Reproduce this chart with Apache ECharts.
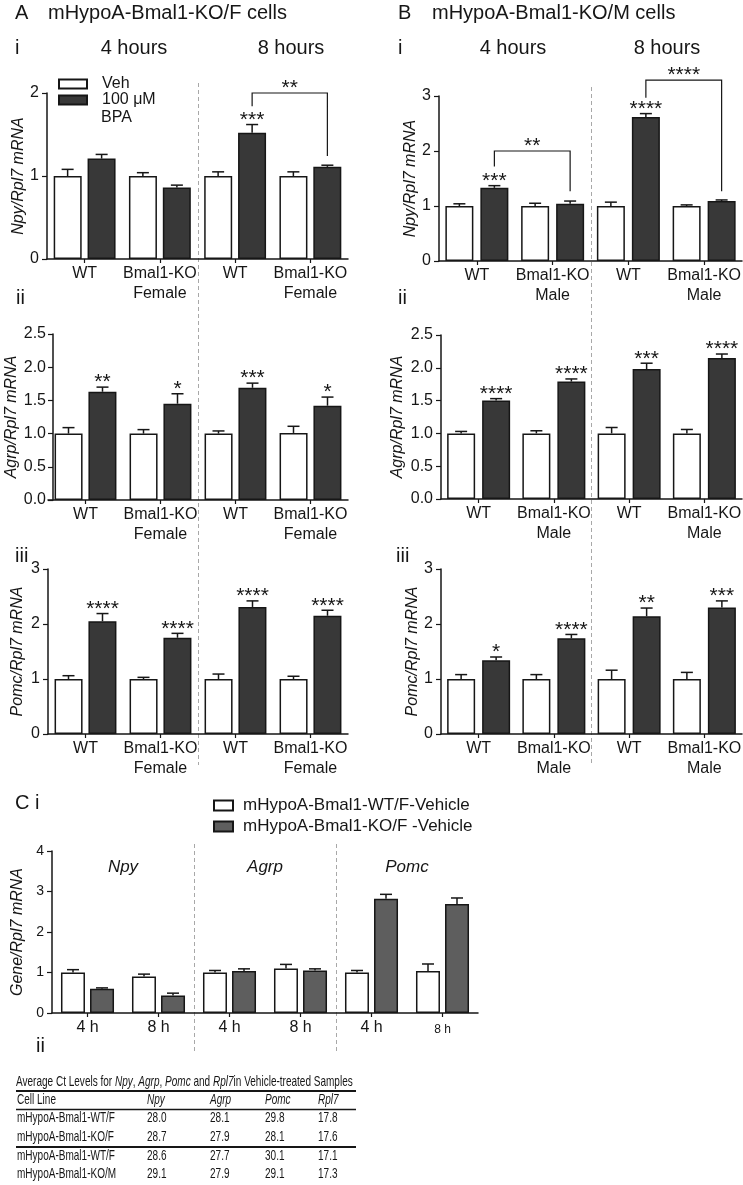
<!DOCTYPE html>
<html><head><meta charset="utf-8">
<script src="https://cdn.jsdelivr.net/npm/echarts@6/dist/echarts.min.js"></script>
<style>html,body{margin:0;padding:0;background:#fff}#c{width:743px;height:1185px}</style>
</head><body><div id="c"></div>
<script>
const FONT = "'Liberation Sans', Arial, Helvetica, sans-serif";

// ---------- categories / tick labels ----------
const groupsA = ['WT', 'Bmal1-KO\nFemale', 'WT', 'Bmal1-KO\nFemale'];
const groupsB = ['WT', 'Bmal1-KO\nMale', 'WT', 'Bmal1-KO\nMale'];
const timeLabelsC = ['4 h', '8 h', '4 h', '8 h', '4 h', '8 h'];
const genesC = ['Npy', 'Agrp', 'Pomc'];
const seriesNamesAB = ['Veh', '100 μM'];
const seriesNamesC = ['mHypoA-Bmal1-WT/F-Vehicle', 'mHypoA-Bmal1-KO/F -Vehicle'];

// ---------- A i (Npy, female) ----------
const aiVeh = [1.00, 1.00, 1.00, 1.00];
const aiVehErr = [0.08, 0.04, 0.05, 0.05];
const aiBpa = [1.21, 0.86, 1.52, 1.11];
const aiBpaErr = [0.05, 0.03, 0.10, 0.02];
const aiSig = ['', '', '***', ''];
const aiBrackets = [[2, 3, 2.0, 1.84, 1.24]];
const aiBracketSig = ['**'];

// ---------- A ii (Agrp, female) ----------
const aiiVeh = [1.00, 1.00, 1.00, 1.01];
const aiiVehErr = [0.09, 0.06, 0.04, 0.10];
const aiiBpa = [1.63, 1.45, 1.69, 1.42];
const aiiBpaErr = [0.07, 0.15, 0.07, 0.13];
const aiiSig = ['**', '*', '***', '*'];

// ---------- A iii (Pomc, female) ----------
const aiiiVeh = [1.00, 1.00, 1.00, 1.00];
const aiiiVehErr = [0.06, 0.03, 0.09, 0.05];
const aiiiBpa = [2.05, 1.75, 2.31, 2.15];
const aiiiBpaErr = [0.14, 0.08, 0.11, 0.10];
const aiiiSig = ['****', '****', '****', '****'];

// ---------- B i (Npy, male) ----------
const biVeh = [1.00, 1.00, 1.00, 1.00];
const biVehErr = [0.04, 0.05, 0.07, 0.02];
const biBpa = [1.33, 1.04, 2.62, 1.09];
const biBpaErr = [0.04, 0.05, 0.06, 0.02];
const biSig = ['***', '', '****', ''];
const biBrackets = [[0, 1, 2.0, 1.72, 1.27], [2, 3, 3.29, 2.97, 1.27]];
const biBracketSig = ['**', '****'];

// ---------- B ii (Agrp, male) ----------
const biiVeh = [1.00, 1.00, 1.00, 1.00];
const biiVehErr = [0.03, 0.04, 0.09, 0.06];
const biiBpa = [1.50, 1.79, 1.98, 2.15];
const biiBpaErr = [0.03, 0.04, 0.09, 0.06];
const biiSig = ['****', '****', '***', '****'];

// ---------- B iii (Pomc, male) ----------
const biiiVeh = [1.00, 1.00, 1.00, 1.00];
const biiiVehErr = [0.08, 0.08, 0.16, 0.12];
const biiiBpa = [1.34, 1.74, 2.14, 2.30];
const biiiBpaErr = [0.06, 0.07, 0.15, 0.12];
const biiiSig = ['*', '****', '**', '***'];

// ---------- C i (vehicle, WT vs KO female) ----------
const cWt = [1.00, 0.90, 1.00, 1.10, 1.00, 1.04];
const cWtErr = [0.07, 0.06, 0.05, 0.10, 0.05, 0.17];
const cKo = [0.60, 0.43, 1.04, 1.05, 2.82, 2.69];
const cKoErr = [0.02, 0.06, 0.05, 0.04, 0.11, 0.15];

// ---------- C ii table ----------
const tableTitle = 'Average Ct Levels for {i|Npy}, {i|Agrp}, {i|Pomc} and {i|Rpl7}in Vehicle-treated Samples';
const tableHeader = ['Cell Line', 'Npy', 'Agrp', 'Pomc', 'Rpl7'];
const tableCellLines = ['mHypoA-Bmal1-WT/F', 'mHypoA-Bmal1-KO/F', 'mHypoA-Bmal1-WT/F', 'mHypoA-Bmal1-KO/M'];
const ctNpy = ['28.0', '28.7', '28.6', '29.1'];
const ctAgrp = ['28.1', '27.9', '27.7', '27.9'];
const ctPomc = ['29.8', '28.1', '30.1', '29.1'];
const ctRpl7 = ['17.8', '17.6', '17.1', '17.3'];

// ---------- layout (positions / styles) ----------
const panels = [
  {cats: groupsA, veh: aiVeh, vehErr: aiVehErr, bpa: aiBpa, bpaErr: aiBpaErr, sig: aiSig, br: aiBrackets, brSig: aiBracketSig,
   yName: 'Npy/Rpl7 mRNA', L: {left: 47, top: 93, width: 301, height: 166, max: 2, interval: 1, dec: 0, barW: 28, gap: 6, nameGap: 19}},
  {cats: groupsA, veh: aiiVeh, vehErr: aiiVehErr, bpa: aiiBpa, bpaErr: aiiBpaErr, sig: aiiSig,
   yName: 'Agrp/Rpl7 mRNA', L: {left: 48, top: 334, width: 300, height: 166, max: 2.5, interval: 0.5, dec: 1, barW: 28, gap: 6, nameGap: 28, axOff: -5, lblMargin: 7}},
  {cats: groupsA, veh: aiiiVeh, vehErr: aiiiVehErr, bpa: aiiiBpa, bpaErr: aiiiBpaErr, sig: aiiiSig,
   yName: 'Pomc/Rpl7 mRNA', L: {left: 48, top: 569, width: 300, height: 165, max: 3, interval: 1, dec: 0, barW: 28, gap: 6, nameGap: 22}},
  {cats: groupsB, veh: biVeh, vehErr: biVehErr, bpa: biBpa, bpaErr: biBpaErr, sig: biSig, br: biBrackets, brSig: biBracketSig,
   yName: 'Npy/Rpl7 mRNA', L: {left: 439, top: 96, width: 303, height: 165, max: 3, interval: 1, dec: 0, barW: 28, gap: 7, nameGap: 20}},
  {cats: groupsB, veh: biiVeh, vehErr: biiVehErr, bpa: biiBpa, bpaErr: biiBpaErr, sig: biiSig,
   yName: 'Agrp/Rpl7 mRNA', L: {left: 441, top: 335, width: 301, height: 164, max: 2.5, interval: 0.5, dec: 1, barW: 28, gap: 7, nameGap: 35}},
  {cats: groupsB, veh: biiiVeh, vehErr: biiiVehErr, bpa: biiiBpa, bpaErr: biiiBpaErr, sig: biiiSig,
   yName: 'Pomc/Rpl7 mRNA', L: {left: 441, top: 569, width: 301, height: 165, max: 3, interval: 1, dec: 0, barW: 28, gap: 7, nameGap: 18}},
  {cats: timeLabelsC, veh: cWt, vehErr: cWtErr, bpa: cKo, bpaErr: cKoErr, names: seriesNamesC, dark: '#5e5e5e',
   yName: 'Gene/Rpl7 mRNA', L: {left: 52, top: 851, width: 426, height: 162, max: 4, interval: 1, dec: 0, barW: 24, gap: 5, nameGap: 17, tickFont: 14, cap: 12}}
];

const INK = '#161616';
const STAR_FONT = 21;

const grids = [], xAxes = [], yAxes = [], series = [];

function errSeries(gi, vals, errs, sigs, side, L) {
  const off = side * (L.barW + L.gap) / 2;
  const cap = L.cap || 12;
  return {
    type: 'custom', xAxisIndex: gi, yAxisIndex: gi, z: 5, silent: true,
    data: vals.map((v, i) => [i, v, errs[i]]),
    renderItem: function (params, api) {
      const i = api.value(0), v = api.value(1), e = api.value(2);
      const base = api.coord([i, v]);
      const top = api.coord([i, v + e]);
      const x = base[0] + off;
      const ch = [
        {type: 'line', shape: {x1: x, y1: base[1], x2: x, y2: top[1]}, style: {stroke: INK, lineWidth: 1.5}},
        {type: 'line', shape: {x1: x - cap / 2, y1: top[1], x2: x + cap / 2, y2: top[1]}, style: {stroke: INK, lineWidth: 1.5}}
      ];
      const s = sigs ? sigs[params.dataIndex] : '';
      if (s) ch.push({type: 'text', x: x, y: top[1] + 6,
        style: {text: s, fontSize: STAR_FONT, fontFamily: FONT, fill: INK, align: 'center', verticalAlign: 'bottom'}});
      return {type: 'group', children: ch};
    }
  };
}

function bracketSeries(gi, brs, sigs, L) {
  const off = (L.barW + L.gap) / 2;
  return {
    type: 'custom', xAxisIndex: gi, yAxisIndex: gi, z: 6, silent: true,
    data: brs,
    renderItem: function (params, api) {
      const f = api.value(0), t = api.value(1), h = api.value(2);
      const p1 = api.coord([f, h]), p2 = api.coord([t, h]);
      const yl = api.coord([f, api.value(3)])[1], yr = api.coord([t, api.value(4)])[1];
      const x1 = p1[0] + off, x2 = p2[0] + off;
      return {type: 'group', children: [
        {type: 'polyline', shape: {points: [[x1, yl], [x1, p1[1]], [x2, p1[1]], [x2, yr]]},
         style: {stroke: INK, lineWidth: 1.2, fill: null}},
        {type: 'text', x: (x1 + x2) / 2, y: p1[1] + 6,
         style: {text: sigs[params.dataIndex], fontSize: STAR_FONT, fontFamily: FONT, fill: INK, align: 'center', verticalAlign: 'bottom'}}
      ]};
    }
  };
}

panels.forEach((p, gi) => {
  const L = p.L;
  const names = p.names || seriesNamesAB;
  grids.push({left: L.left, top: L.top, width: L.width, height: L.height, containLabel: false, outerBoundsMode: 'none'});
  xAxes.push({
    type: 'category', gridIndex: gi, data: p.cats, boundaryGap: true,
    axisLine: {show: true, lineStyle: {color: INK, width: 1.5}},
    axisTick: {show: true, alignWithLabel: true, length: 4, lineStyle: {color: INK, width: 1.2}},
    axisLabel: {show: true, interval: 0, margin: 5, color: INK, fontSize: 16, fontFamily: FONT, lineHeight: 20,
      formatter: (gi === 6) ? function (v, idx) { return idx === 5 ? '{s|' + v + '}' : v; } : undefined,
      rich: {s: {fontSize: 12, fontFamily: FONT, color: INK, lineHeight: 20, padding: [3, 0, 0, 0]}}},
    splitLine: {show: false}
  });
  yAxes.push({
    type: 'value', gridIndex: gi, min: 0, max: L.max, interval: L.interval, offset: L.axOff || 0,
    name: p.yName, nameLocation: 'middle', nameGap: L.nameGap,
    nameTextStyle: {fontStyle: 'italic', fontSize: 16, fontFamily: FONT, color: INK},
    axisLine: {show: true, lineStyle: {color: INK, width: 1.5}},
    axisTick: {show: true, length: 5, lineStyle: {color: INK, width: 1.2}},
    axisLabel: {show: true, margin: L.lblMargin || 8, color: INK, fontSize: L.tickFont || 16, fontFamily: FONT,
      formatter: (v) => v.toFixed(L.dec)},
    splitLine: {show: false}
  });
  const gapPct = Math.round(L.gap / L.barW * 100) + '%';
  series.push({
    type: 'bar', name: names[0], xAxisIndex: gi, yAxisIndex: gi, data: p.veh,
    barWidth: L.barW, barGap: gapPct,
    itemStyle: {color: '#ffffff', borderColor: INK, borderWidth: 1.5}
  });
  series.push({
    type: 'bar', name: names[1], xAxisIndex: gi, yAxisIndex: gi, data: p.bpa,
    barWidth: L.barW, barGap: gapPct,
    itemStyle: {color: p.dark || '#383838', borderColor: INK, borderWidth: 1.5}
  });
  series.push(errSeries(gi, p.veh, p.vehErr, null, -1, L));
  series.push(errSeries(gi, p.bpa, p.bpaErr, p.sig, 1, L));
  if (p.br) series.push(bracketSeries(gi, p.br, p.brSig, L));
});

const chart = echarts.init(document.getElementById('c'), null, {renderer: 'canvas'});
chart.setOption({
  animation: false,
  backgroundColor: '#ffffff',
  textStyle: {fontFamily: FONT},
  grid: grids, xAxis: xAxes, yAxis: yAxes, series: series,
  legend: [
    {data: seriesNamesAB, orient: 'vertical', left: 58, top: 76, padding: 0, itemGap: 0,
     itemWidth: 28, itemHeight: 9, icon: 'rect', selectedMode: false,
     textStyle: {fontSize: 16, fontFamily: FONT, color: INK, lineHeight: 16, padding: [0, 0, 0, 10]}},
    {data: seriesNamesC, orient: 'vertical', left: 213, top: 797, padding: 0, itemGap: 4,
     itemWidth: 19, itemHeight: 10, icon: 'rect', selectedMode: false,
     textStyle: {fontSize: 17, fontFamily: FONT, color: INK, lineHeight: 17, padding: [0, 0, 0, 5]}}
  ]
});

// ---------- annotations (text, separators, table) ----------
function mid(gi, a, b) {
  const pa = chart.convertToPixel({gridIndex: gi}, [a, 0]);
  const pb = chart.convertToPixel({gridIndex: gi}, [b, 0]);
  return (pa[0] + pb[0]) / 2;
}
const g = [];
function txt(x, y, text, size, opts, arr) {
  (arr || g).push({type: 'text', x: x, y: y, silent: true,
    style: Object.assign({text: text, fontSize: size, fontFamily: FONT, fill: INK, align: 'left', verticalAlign: 'middle'}, opts || {})});
}
function vline(x, y1, y2) {
  g.push({type: 'line', silent: true, shape: {x1: x, y1: y1, x2: x, y2: y2},
    style: {stroke: '#a8a8a8', lineWidth: 1, lineDash: [4, 3]}});
}
function hline(x1, x2, y, w) {
  g.push({type: 'line', silent: true, shape: {x1: x1, y1: y, x2: x2, y2: y}, style: {stroke: INK, lineWidth: w}});
}

// panel titles
txt(15, 13, 'A', 20); txt(48, 13, 'mHypoA-Bmal1-KO/F cells', 20);
txt(398, 13, 'B', 20); txt(432, 13, 'mHypoA-Bmal1-KO/M cells', 20);
txt(15, 48, 'i', 20); txt(134, 48, '4 hours', 20, {align: 'center'}); txt(291, 48, '8 hours', 20, {align: 'center'});
txt(398, 48, 'i', 20); txt(513, 48, '4 hours', 20, {align: 'center'}); txt(667, 48, '8 hours', 20, {align: 'center'});
txt(16, 298, 'ii', 20); txt(398, 298, 'ii', 20);
txt(15, 556, 'iii', 20); txt(396, 556, 'iii', 20);
txt(101, 118, 'BPA', 16);
txt(15, 803, 'C i', 20);
txt(36, 1046, 'ii', 20);

// separators
vline(Math.round(mid(0, 1, 2)) + 0.5, 83, 765);
vline(Math.round(mid(3, 1, 2)) + 0.5, 87, 765);
vline(Math.round(mid(6, 1, 2)) + 0.5, 844, 1053);
vline(Math.round(mid(6, 3, 4)) + 0.5, 844, 1053);

// gene labels in C
genesC.forEach((name, k) => {
  const x = mid(6, 2 * k, 2 * k + 1);
  const y = chart.convertToPixel({gridIndex: 6}, [0, 3.6])[1];
  txt(x, y, name, 17, {align: 'center', fontStyle: 'italic'});
});

// table (narrow type: horizontally condensed group)
const TF = 14.5;
const ctx = document.createElement('canvas').getContext('2d');
ctx.font = TF + "px 'Liberation Sans', Arial, sans-serif";
const plainTitle = tableTitle.replace(/\{i\|([^}]*)\}/g, '$1');
const TS = 336 / ctx.measureText(plainTitle).width;
const T0 = 16;
const tg = [];
const tx = (X) => (X - T0) / TS;
tg.push({type: 'text', x: 0, y: 1082, silent: true, style: {
  text: tableTitle, fontSize: TF, fontFamily: FONT, fill: INK, verticalAlign: 'middle',
  rich: {i: {fontStyle: 'italic', fontSize: TF, fontFamily: FONT, fill: INK}}}});
const colX = [17, 147, 210, 265, 318];
const rowY = [1118, 1137, 1156, 1174];
tableHeader.forEach((h, c) => txt(tx(colX[c]), 1100, h, TF, {fontStyle: c ? 'italic' : 'normal'}, tg));
const cols = [tableCellLines, ctNpy, ctAgrp, ctPomc, ctRpl7];
rowY.forEach((y, r) => cols.forEach((col, c) => txt(tx(colX[c]), y, col[r], TF, null, tg)));
g.push({type: 'group', x: T0, y: 0, scaleX: TS, scaleY: 1, children: tg});
hline(16, 356, 1091, 2);
hline(16, 356, 1109.5, 1.5);
hline(16, 356, 1147, 2);

chart.setOption({graphic: {elements: g}});
</script></body></html>
